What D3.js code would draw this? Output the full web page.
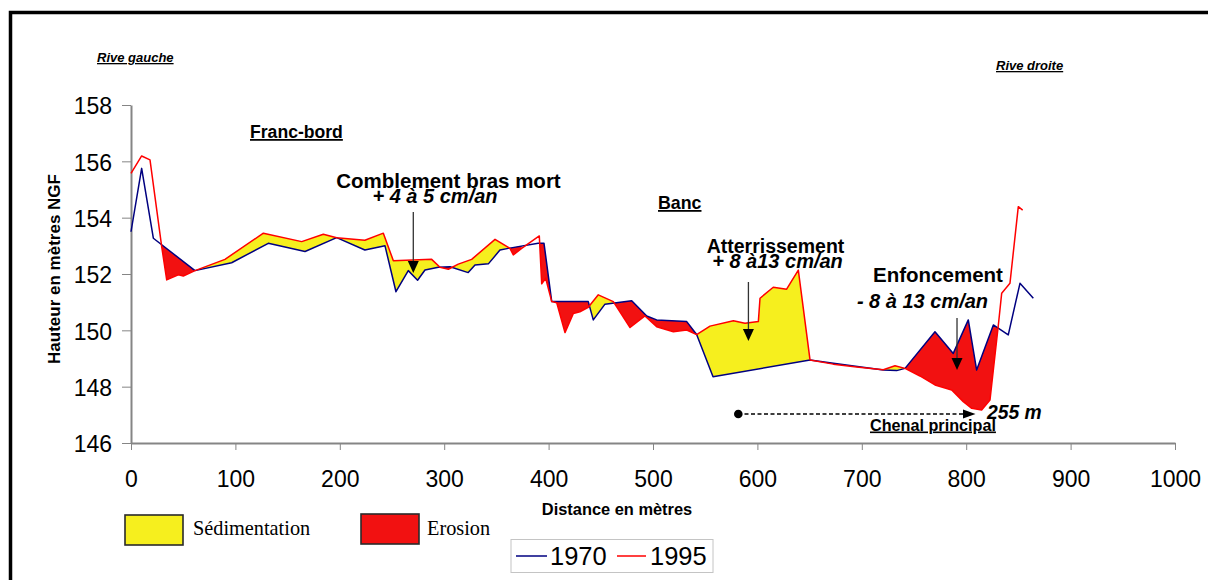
<!DOCTYPE html>
<html>
<head>
<meta charset="utf-8">
<script src="https://cdn.jsdelivr.net/npm/d3@7"></script>
<style>
  html, body { margin: 0; padding: 0; background: #ffffff; }
  svg { display: block; }
  text { font-family: "Liberation Sans", Arial, sans-serif; }
</style>
</head>
<body>
<svg id="chart" width="1208" height="580"></svg>
<script>
// ---------------- DATA ----------------
const dist1970 = [0, 10.2, 21.4, 61.3, 96.4, 131.5, 166.7, 197, 224, 243.3, 253.8, 265.6, 274.5, 281.6, 294.4, 305.6,
  323, 329.5, 342.3, 353.4, 361.4, 390, 395.6, 403, 438, 442.8, 454, 479.6, 494, 503.5, 532.3, 541.8, 557.5,
  650.4, 672.7, 720.6, 733.4, 741.4, 770.1, 787.6, 802, 810, 826, 840.3, 851.5, 864.3];
const elev1970 = [153.5, 155.75, 153.27, 152.12, 152.4, 153.09, 152.8, 153.29, 152.85, 153.0, 151.37, 152.12, 151.78, 152.14, 152.24, 152.26,
  152.05, 152.32, 152.36, 152.85, 152.91, 153.09, 153.09, 151.02, 151.02, 150.37, 150.93, 151.05, 150.51, 150.37, 150.31, 149.85, 148.35,
  148.95, 148.83, 148.59, 148.57, 148.65, 149.95, 149.18, 150.37, 148.59, 150.19, 149.84, 151.67, 151.14];

const dist1995 = [0, 10.2, 18.2, 29.4, 34.2, 45.3, 50.1, 61.3, 90, 126.8, 163.5, 184.2, 197, 224, 241.7, 251.3, 288, 296, 304,
  313.5, 326.3, 348.7, 363, 366.2, 374.2, 391.1, 393.4, 397.2, 403, 407.8, 415.7, 423.7, 430, 438, 447.6, 462, 478, 492.3,
  503.5, 519.5, 532.3, 541.8, 554.6, 577, 588.1, 600.9, 602.5, 615.2, 628, 639.2, 650.4, 672.7, 695, 720.6, 731.8, 741.4,
  755.7, 770.1, 786.1, 797.2, 805.3, 814.8, 822.8, 830.8, 834, 841.9, 849.9, 854.1];
const elev1995 = [155.57, 156.19, 156.05, 152.97, 151.79, 151.97, 151.93, 152.12, 152.52, 153.45, 153.15, 153.41, 153.29, 153.2, 153.45, 152.47, 152.52, 152.24, 152.17,
  152.35, 152.52, 153.23, 152.91, 152.68, 152.91, 153.35, 151.65, 151.85, 151.02, 150.98, 149.92, 150.6, 150.66, 150.82, 151.26, 151.02, 150.1, 150.51,
  150.13, 149.95, 150.01, 149.85, 150.15, 150.34, 150.25, 150.31, 151.14, 151.53, 151.46, 152.14, 148.95, 148.8, 148.7, 148.6, 148.74, 148.65,
  148.38, 148.06, 147.88, 147.47, 147.23, 147.17, 147.53, 150.19, 151.32, 151.67, 154.39, 154.27];

// stretches of the profile where the change between surveys is shaded
const fillSpans = [[29, 374.2], [391.3, 831]];

const xTicks = [0, 100, 200, 300, 400, 500, 600, 700, 800, 900, 1000];
const yTicks = [146, 148, 150, 152, 154, 156, 158];

const seriesNames = ["1970", "1995"];
const fillNames = ["Sédimentation", "Erosion"];

// ---------------- STYLE ----------------
const C1970 = "#000080", C1995 = "#ff0000";
const CYELLOW = "#f6ef1e", CRED = "#f21111";
const AXIS = "#858585";

const svg = d3.select("#chart");
svg.append("rect").attr("width", 1208).attr("height", 580).attr("fill", "#fff");
// outer frame (right and bottom edges beyond the picture)
svg.append("rect").attr("x", 10.5).attr("y", 12.5).attr("width", 1220).attr("height", 620)
  .attr("fill", "none").attr("stroke", "#000").attr("stroke-width", 3.5);

const x = d3.scaleLinear().domain([0, 1000]).range([131, 1175]);
const y = d3.scaleLinear().domain([146, 158]).range([443, 105]);

const pts1970 = d3.zip(dist1970, elev1970);
const pts1995 = d3.zip(dist1995, elev1995);

const defs = svg.append("defs");
defs.append("clipPath").attr("id", "spanClip").selectAll("rect").data(fillSpans).join("rect")
  .attr("x", s => x(s[0])).attr("width", s => x(s[1]) - x(s[0]))
  .attr("y", y(158)).attr("height", y(146) - y(158));

const aboveArea = d3.area().x(p => x(p[0])).y0(p => y(p[1])).y1(y(158));
const belowArea = d3.area().x(p => x(p[0])).y0(y(146)).y1(p => y(p[1]));
defs.append("clipPath").attr("id", "above1970").append("path").attr("d", aboveArea(pts1970));
defs.append("clipPath").attr("id", "above1995").append("path").attr("d", aboveArea(pts1995));

const fills = svg.append("g").attr("clip-path", "url(#spanClip)");
// sedimentation: above 1970, below 1995
fills.append("g").attr("clip-path", "url(#above1970)")
  .append("path").attr("d", belowArea(pts1995)).attr("fill", CYELLOW);
// erosion: above 1995, below 1970
fills.append("g").attr("clip-path", "url(#above1995)")
  .append("path").attr("d", belowArea(pts1970)).attr("fill", CRED);

// axes
const xAxis = svg.append("g").attr("transform", `translate(0,${y(146)})`)
  .call(d3.axisBottom(x).tickValues(xTicks).tickFormat(d3.format("d")).tickSize(7).tickSizeOuter(0).tickPadding(21));
const yAxis = svg.append("g").attr("transform", `translate(${x(0)},0)`)
  .call(d3.axisLeft(y).tickValues(yTicks).tickFormat(d3.format("d")).tickSize(9).tickSizeOuter(0).tickPadding(10));
[xAxis, yAxis].forEach(a => {
  a.select(".domain").attr("stroke", AXIS).attr("stroke-width", 2);
  a.selectAll(".tick line").attr("stroke", AXIS).attr("stroke-width", 1);
  a.selectAll(".tick text").attr("fill", "#000").style("font-size", "23px")
    .style("font-family", "'Liberation Sans', Arial, sans-serif");
});
yAxis.selectAll(".tick text").attr("dy", "0.38em");

// lines
const line = d3.line().x(p => x(p[0])).y(p => y(p[1]));
svg.append("path").attr("d", line(pts1970)).attr("fill", "none").attr("stroke", C1970).attr("stroke-width", 1.5).attr("stroke-linejoin", "round");
svg.append("path").attr("d", line(pts1995)).attr("fill", "none").attr("stroke", C1995).attr("stroke-width", 1.5).attr("stroke-linejoin", "round");

// ---------------- TEXT ----------------
function txt(t, px, py, size, opts = {}) {
  const e = svg.append("text").attr("x", px).attr("y", py).text(t)
    .style("font-size", size + "px")
    .style("font-weight", opts.weight || "bold")
    .style("font-style", opts.italic ? "italic" : "normal")
    .attr("text-anchor", opts.anchor || "start")
    .attr("fill", "#000");
  if (opts.underline) e.style("text-decoration", "underline");
  if (opts.family) e.style("font-family", opts.family);
  return e;
}
txt("Rive gauche", 97, 62, 13, { italic: true, underline: true });
txt("Rive droite", 996, 70, 13, { italic: true, underline: true });
txt("Franc-bord", 250, 138, 17.6, { underline: true });
txt("Banc", 658, 209, 17.8, { underline: true });
txt("Comblement bras mort", 448.5, 188, 20.5, { anchor: "middle" });
txt("+ 4 à 5 cm/an", 435, 203, 20, { anchor: "middle", italic: true });
txt("Atterrissement", 775.5, 252.5, 19.5, { anchor: "middle" });
txt("+ 8 à13 cm/an", 777.5, 267.5, 20, { anchor: "middle", italic: true });
txt("Enfoncement", 938, 281.5, 20.5, { anchor: "middle" });
txt("- 8 à 13 cm/an", 922.5, 307.5, 20, { anchor: "middle", italic: true });
txt("255 m", 987, 418.5, 19.3, { italic: true });
txt("Chenal principal", 870, 430.5, 16.2, { underline: true });
txt("Distance en mètres", 617, 515, 16.4, { anchor: "middle" });
svg.append("text").attr("transform", "translate(60,269) rotate(-90)").attr("text-anchor", "middle")
  .style("font-size", "17px").style("font-weight", "bold").text("Hauteur en mètres NGF");

// arrows
function arrow(px, y0, y1) {
  svg.append("line").attr("x1", px).attr("x2", px).attr("y1", y0).attr("y2", y1 - 10)
    .attr("stroke", "#333").attr("stroke-width", 1.3);
  svg.append("path").attr("d", `M${px - 5.5},${y1 - 12} L${px + 5.5},${y1 - 12} L${px},${y1} Z`).attr("fill", "#000");
}
arrow(x(270.4), 212, 273);
arrow(x(591.4), 282, 341);
arrow(x(791.2), 318, 370);

// dashed distance arrow
svg.append("circle").attr("cx", 738.3).attr("cy", 414).attr("r", 4.3).attr("fill", "#000");
svg.append("line").attr("x1", 738).attr("x2", 964).attr("y1", 414).attr("y2", 414)
  .attr("stroke", "#000").attr("stroke-width", 1.3).attr("stroke-dasharray", "4,2.5");
svg.append("path").attr("d", "M963,409.5 L975.5,414 L963,418.5 Z").attr("fill", "#000");

// ---------------- LEGENDS ----------------
const fillBoxes = [{ x: 125, y: 515, c: CYELLOW, tx: 193 }, { x: 361, y: 514, c: CRED, tx: 427 }];
fillBoxes.forEach((b, i) => {
  svg.append("rect").attr("x", b.x).attr("y", b.y).attr("width", 58).attr("height", 30)
    .attr("fill", b.c).attr("stroke", "#2a2a2a").attr("stroke-width", 1.6);
  txt(fillNames[i], b.tx, 535, 20.3, { weight: "normal", family: "'Liberation Serif', 'Times New Roman', serif" });
});

svg.append("rect").attr("x", 511).attr("y", 539.5).attr("width", 202).attr("height", 33)
  .attr("fill", "#fff").attr("stroke", "#c4c4c4").attr("stroke-width", 1);
const lineLeg = [{ x0: 516, x1: 547, tx: 550, c: C1970 }, { x0: 617, x1: 646, tx: 650, c: C1995 }];
lineLeg.forEach((l, i) => {
  svg.append("line").attr("x1", l.x0).attr("x2", l.x1).attr("y1", 556).attr("y2", 556)
    .attr("stroke", l.c).attr("stroke-width", 1.5);
  txt(seriesNames[i], l.tx, 565, 25.5, { weight: "normal" });
});
</script>
</body>
</html>
